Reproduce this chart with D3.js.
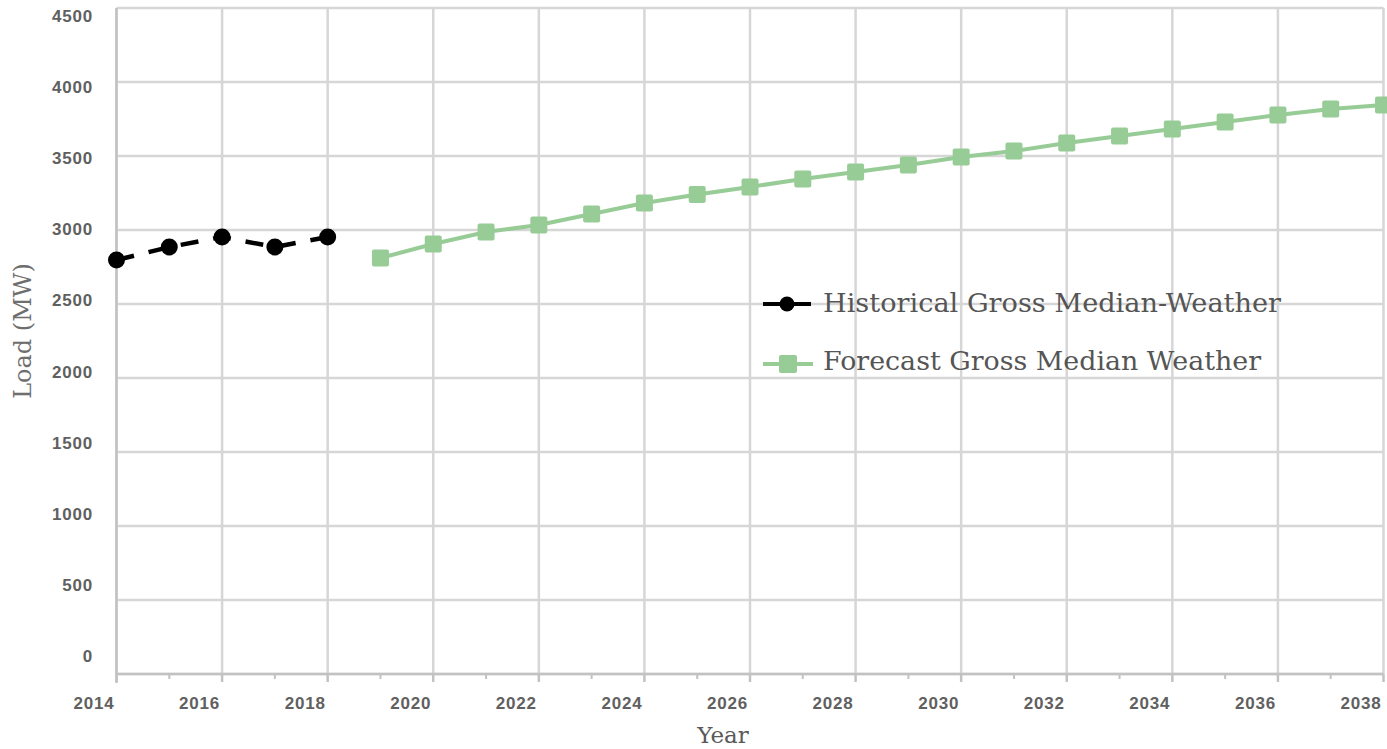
<!DOCTYPE html>
<html>
<head>
<meta charset="utf-8">
<script src="https://cdn.jsdelivr.net/npm/d3@7"></script>
<style>
  body { margin: 0; background: #fff; }
  svg { display: block; }
</style>
</head>
<body>
<div class="visuals"></div>
<script>
// values
const histYears = [2014, 2015, 2016, 2017, 2018];
const histLoad = [2797, 2885, 2953, 2885, 2953];
const fcYears = [2019, 2020, 2021, 2022, 2023, 2024, 2025, 2026, 2027, 2028,
                 2029, 2030, 2031, 2032, 2033, 2034, 2035, 2036, 2037, 2038];
const fcLoad = [2811, 2905, 2986, 3034, 3108, 3182, 3240, 3291, 3345, 3392,
                3439, 3493, 3534, 3588, 3635, 3682, 3730, 3777, 3818, 3845];
const xTicks = [2014, 2016, 2018, 2020, 2022, 2024, 2026, 2028, 2030, 2032, 2034, 2036, 2038];
const xMinor = [2015, 2017, 2019, 2021, 2023, 2025, 2027, 2029, 2031, 2033, 2035, 2037];
const yTicks = [0, 500, 1000, 1500, 2000, 2500, 3000, 3500, 4000, 4500];
const legendNames = ["Historical Gross Median-Weather", "Forecast Gross Median Weather"];

const width = 1387, height = 749;
const green = "#98cc96";

const svg = d3.select(".visuals").append("svg")
  .attr("width", width).attr("height", height);

const x = d3.scaleLinear().domain([2014, 2038]).range([116.5, 1383.5]);
const y = d3.scaleLinear().domain([0, 4500]).range([674, 8]);
// tick labels in the picture sit a bit off the grid lines
const yLab = d3.scaleLinear().domain([0, 4500]).range([662, 22]);

// grid
svg.append("g").selectAll("line").data(yTicks).enter().append("line")
  .attr("x1", x(2014)).attr("x2", x(2038))
  .attr("y1", d => y(d)).attr("y2", d => y(d))
  .attr("stroke", "#d6d6d6").attr("stroke-width", 2.5);
svg.append("g").selectAll("line").data(xTicks).enter().append("line")
  .attr("x1", d => x(d)).attr("x2", d => x(d))
  .attr("y1", y(0)).attr("y2", y(4500))
  .attr("stroke", "#d6d6d6").attr("stroke-width", 2.5);

// axis lines
svg.append("line").attr("x1", x(2014)).attr("x2", x(2014))
  .attr("y1", y(4500)).attr("y2", y(0) + 9)
  .attr("stroke", "#c2c2c2").attr("stroke-width", 2.5);
svg.append("line").attr("x1", x(2014)).attr("x2", x(2038))
  .attr("y1", y(0)).attr("y2", y(0))
  .attr("stroke", "#c2c2c2").attr("stroke-width", 2.5);

// x ticks
svg.append("g").selectAll("line").data(xTicks).enter().append("line")
  .attr("x1", d => x(d)).attr("x2", d => x(d))
  .attr("y1", y(0)).attr("y2", y(0) + 8)
  .attr("stroke", "#c2c2c2").attr("stroke-width", 2.5);
svg.append("g").selectAll("line").data(xMinor).enter().append("line")
  .attr("x1", d => x(d)).attr("x2", d => x(d))
  .attr("y1", y(0)).attr("y2", y(0) + 5)
  .attr("stroke", "#c2c2c2").attr("stroke-width", 2);

// tick labels
svg.append("g").selectAll("text").data(xTicks).enter().append("text")
  .attr("x", d => x(d) - 2).attr("y", 709)
  .attr("text-anchor", "end")
  .attr("font-family", "Liberation Sans, Arial, sans-serif")
  .attr("font-weight", "bold").attr("font-size", 17)
  .attr("letter-spacing", 0.8)
  .attr("fill", "#606060")
  .text(d => d);
svg.append("g").selectAll("text").data(yTicks).enter().append("text")
  .attr("x", 93).attr("y", d => yLab(d))
  .attr("text-anchor", "end")
  .attr("font-family", "Liberation Sans, Arial, sans-serif")
  .attr("font-weight", "bold").attr("font-size", 17)
  .attr("letter-spacing", 0.8)
  .attr("fill", "#606060")
  .text(d => d);

// axis titles
svg.append("text")
  .attr("transform", "translate(31,331) rotate(-90)")
  .attr("text-anchor", "middle")
  .attr("font-family", "DejaVu Serif, serif").attr("font-size", 24)
  .attr("fill", "#6e6e6e")
  .text("Load (MW)");
svg.append("text")
  .attr("x", 723).attr("y", 743)
  .attr("text-anchor", "middle")
  .attr("font-family", "DejaVu Serif, serif").attr("font-size", 23)
  .attr("fill", "#5a5a5a")
  .text("Year");

// forecast series
const fcData = fcYears.map((d, i) => [d, fcLoad[i]]);
const line = d3.line().x(d => x(d[0])).y(d => y(d[1]));
svg.append("path").datum(fcData)
  .attr("d", line).attr("fill", "none")
  .attr("stroke", green).attr("stroke-width", 4);
svg.append("g").selectAll("rect").data(fcData).enter().append("rect")
  .attr("x", d => x(d[0]) - 8.5).attr("y", d => y(d[1]) - 8.5)
  .attr("width", 17).attr("height", 17).attr("rx", 2)
  .attr("fill", green);

// historical series
const histData = histYears.map((d, i) => [d, histLoad[i]]);
svg.append("path").datum(histData)
  .attr("d", line).attr("fill", "none")
  .attr("stroke", "#000").attr("stroke-width", 4.5)
  .attr("stroke-dasharray", "18,15");
svg.append("g").selectAll("circle").data(histData).enter().append("circle")
  .attr("cx", d => x(d[0])).attr("cy", d => y(d[1]))
  .attr("r", 8.5).attr("fill", "#000");

// legend
const leg = svg.append("g");
leg.append("line").attr("x1", 763).attr("x2", 811).attr("y1", 304).attr("y2", 304)
  .attr("stroke", "#000").attr("stroke-width", 4);
leg.append("circle").attr("cx", 787).attr("cy", 304).attr("r", 7.5).attr("fill", "#000");
leg.append("line").attr("x1", 763).attr("x2", 813).attr("y1", 364).attr("y2", 364)
  .attr("stroke", green).attr("stroke-width", 4);
leg.append("rect").attr("x", 779).attr("y", 355).attr("width", 18).attr("height", 18)
  .attr("rx", 2).attr("fill", green);
leg.selectAll("text").data(legendNames).enter().append("text")
  .attr("x", 823).attr("y", (d, i) => 312 + i * 58)
  .attr("font-family", "DejaVu Serif, serif").attr("font-size", 26)
  .attr("fill", "#555")
  .attr("textLength", (d, i) => i === 0 ? 458 : 438)
  .attr("lengthAdjust", "spacingAndGlyphs")
  .text(d => d);
</script>
</body>
</html>
